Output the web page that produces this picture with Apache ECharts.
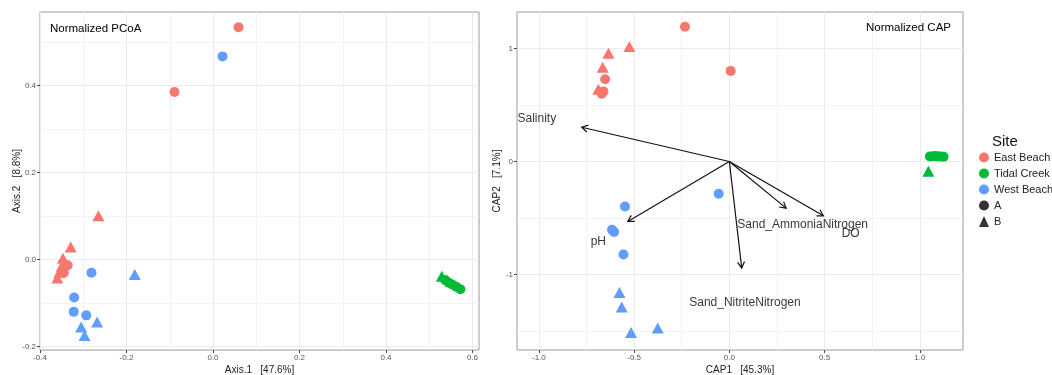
<!DOCTYPE html>
<html>
<head>
<meta charset="utf-8">
<script src="https://cdn.jsdelivr.net/npm/echarts@6/dist/echarts.min.js"></script>
<style>html,body{margin:0;padding:0;background:#fff;}#c{width:1052px;height:375px;}</style>
</head>
<body>
<div id="c"></div>
<script>
// ---------- DATA ----------
const siteNames = ['East Beach', 'Tidal Creek', 'West Beach'];
const groupNames = ['A', 'B'];

// PCoA (Axis.1, Axis.2)
const pcoaEastA = [[0.059,0.534],[-0.089,0.385],[-0.336,-0.013],[-0.345,-0.030]];
const pcoaEastB = [[-0.265,0.101],[-0.329,0.029],[-0.347,0.003],[-0.350,-0.015],[-0.355,-0.029],[-0.360,-0.042]];
const pcoaTidalA = [[0.537,-0.047],[0.545,-0.053],[0.553,-0.057],[0.562,-0.062],[0.572,-0.068]];
const pcoaTidalB = [[0.529,-0.038]];
const pcoaWestA = [[0.022,0.467],[-0.281,-0.030],[-0.321,-0.087],[-0.322,-0.120],[-0.293,-0.128]];
const pcoaWestB = [[-0.181,-0.034],[-0.268,-0.143],[-0.305,-0.155],[-0.297,-0.174]];

// CAP (CAP1, CAP2)
const capEastA = [[-0.233,1.195],[0.007,0.803],[-0.652,0.729],[-0.661,0.620],[-0.670,0.600]];
const capEastB = [[-0.525,1.020],[-0.635,0.960],[-0.665,0.835],[-0.688,0.640]];
const capTidalA = [[1.053,0.045],[1.075,0.048],[1.095,0.046],[1.110,0.044],[1.125,0.042]];
const capTidalB = [[1.045,-0.085]];
const capWestA = [[-0.056,-0.286],[-0.548,-0.398],[-0.616,-0.604],[-0.605,-0.625],[-0.556,-0.823]];
const capWestB = [[-0.577,-1.160],[-0.565,-1.290],[-0.516,-1.515],[-0.376,-1.475]];

// CAP environmental vectors (arrow tips) and their labels
const envNames = ['Salinity','pH','Sand_NitriteNitrogen','Sand_AmmoniaNitrogen','DO'];
const envArrows = [[-0.775,0.304],[-0.533,-0.531],[0.065,-0.943],[0.298,-0.413],[0.494,-0.481]];
const envLabelPos = [[-1.011,0.378],[-0.688,-0.708],[0.082,-1.248],[0.385,-0.560],[0.637,-0.640]];

// axis ticks
const pcoaXTicks = [-0.4,-0.2,0,0.2,0.4,0.6];
const pcoaXMinor = [-0.3,-0.1,0.1,0.3,0.5];
const pcoaYTicks = [-0.2,0,0.2,0.4];
const pcoaYMinor = [-0.1,0.1,0.3,0.5];
const capXTicks = [-1,-0.5,0,0.5,1];
const capXMinor = [-0.75,-0.25,0.25,0.75];
const capYTicks = [-1,0,1];
const capYMinor = [-1.5,-0.5,0.5];

// ---------- CHART ----------
const COLORS = {'East Beach':'#F8766D','Tidal Creek':'#00BA38','West Beach':'#619CFF'};
const FONT = 'Liberation Sans, Arial, sans-serif';
const chart = echarts.init(document.getElementById('c'), null, {renderer:'canvas'});

function axisPair(dim, gridIndex, min, max, ticks, minor, name, nameGap, dec) {
  const major = {
    type:'value', gridIndex, min, max,
    position: dim === 'x' ? 'bottom' : 'left',
    name, nameLocation:'middle', nameGap, nameMoveOverlap:false,
    nameTextStyle:{fontFamily:FONT, fontSize:10, color:'#222'},
    axisLine:{show:false, onZero:false},
    axisTick:{show:true, customValues:ticks, length:3, lineStyle:{color:'#444', width:1}},
    axisLabel:{customValues:ticks, fontFamily:FONT, fontSize:8, color:'#555', margin:4,
      formatter: v => Number(v).toFixed(dec)},
    splitLine:{show:true, lineStyle:{color:'#EBEBEB', width:1}}
  };
  const mn = {
    type:'value', gridIndex, min, max,
    position: dim === 'x' ? 'top' : 'right',
    axisLine:{show:false, onZero:false},
    axisTick:{show:false, customValues:minor},
    axisLabel:{show:false, customValues:minor},
    splitLine:{show:true, lineStyle:{color:'#F3F3F3', width:1}}
  };
  return [major, mn];
}

const xAxes = [
  ...axisPair('x', 0, -0.4, 0.615, pcoaXTicks, pcoaXMinor, 'Axis.1   [47.6%]', 15, 1),
  ...axisPair('x', 1, -1.115, 1.227, capXTicks, capXMinor, 'CAP1   [45.3%]', 15, 1)
];
const yAxes = [
  ...axisPair('y', 0, -0.2076, 0.569, pcoaYTicks, pcoaYMinor, 'Axis.2   [8.8%]', 18, 1),
  ...axisPair('y', 1, -1.67, 1.325, capYTicks, capYMinor, 'CAP2   [7.1%]', 15, 0)
];

function pts(name, data, shape, axisIdx) {
  return {
    type:'scatter', name, xAxisIndex:axisIdx, yAxisIndex:axisIdx,
    symbol: shape, symbolSize: shape === 'triangle' ? [12,11] : 10,
    itemStyle:{color:COLORS[name], opacity:1},
    data, z:3, silent:true
  };
}

const series = [
  pts('East Beach', pcoaEastA, 'circle', 0),
  pts('East Beach', pcoaEastB, 'triangle', 0),
  pts('Tidal Creek', pcoaTidalA, 'circle', 0),
  pts('Tidal Creek', pcoaTidalB, 'triangle', 0),
  pts('West Beach', pcoaWestA, 'circle', 0),
  pts('West Beach', pcoaWestB, 'triangle', 0),
  pts('East Beach', capEastA, 'circle', 2),
  pts('East Beach', capEastB, 'triangle', 2),
  pts('Tidal Creek', capTidalA, 'circle', 2),
  pts('Tidal Creek', capTidalB, 'triangle', 2),
  pts('West Beach', capWestA, 'circle', 2),
  pts('West Beach', capWestB, 'triangle', 2),
  {
    type:'custom', name:'arrows', xAxisIndex:2, yAxisIndex:2, z:4, silent:true,
    encode:{x:0, y:1},
    data: envArrows,
    renderItem: function(params, api) {
      const o = api.coord([0,0]);
      const p = api.coord([api.value(0), api.value(1)]);
      const ang = Math.atan2(p[1]-o[1], p[0]-o[0]);
      const L = 7, a = Math.PI/6;
      const h1 = [p[0]-L*Math.cos(ang-a), p[1]-L*Math.sin(ang-a)];
      const h2 = [p[0]-L*Math.cos(ang+a), p[1]-L*Math.sin(ang+a)];
      const st = {stroke:'#111', lineWidth:1.2};
      return {type:'group', children:[
        {type:'line', shape:{x1:o[0],y1:o[1],x2:p[0],y2:p[1]}, style:st},
        {type:'polyline', shape:{points:[h1,p,h2]}, style:Object.assign({fill:null}, st)}
      ]};
    }
  },
  {
    type:'scatter', name:'envLabels', xAxisIndex:2, yAxisIndex:2, z:5, silent:true,
    symbolSize:0,
    data: envNames.map((n,i) => ({name:n, value:envLabelPos[i]})),
    label:{show:true, position:'inside', formatter:'{b}', fontFamily:FONT, fontSize:12, color:'#000'}
  },
  // legend-only series
  {type:'scatter', name:'A', xAxisIndex:0, yAxisIndex:0, data:[], itemStyle:{color:'#000'}},
  {type:'scatter', name:'B', xAxisIndex:0, yAxisIndex:0, data:[], itemStyle:{color:'#000'}}
];

chart.setOption({
  animation:false,
  backgroundColor:'#fff',
  title:[
    {text:'Normalized PCoA', left:45, top:18, textStyle:{fontFamily:FONT, fontSize:11.5, fontWeight:'normal', color:'#000'}},
    {text:'Normalized CAP', right:96, top:17, textStyle:{fontFamily:FONT, fontSize:11.5, fontWeight:'normal', color:'#000'}},
    {text:'Site', left:987, top:129, textStyle:{fontFamily:FONT, fontSize:15, fontWeight:'normal', color:'#111'}}
  ],
  legend:{
    orient:'vertical', left:974, top:147, itemWidth:10, itemHeight:11, itemGap:5,
    selectedMode:false,
    textStyle:{fontFamily:FONT, fontSize:11, color:'#222'},
    data:[
      {name:'East Beach', icon:'circle'},
      {name:'Tidal Creek', icon:'circle'},
      {name:'West Beach', icon:'circle'},
      {name:'A', icon:'circle'},
      {name:'B', icon:'triangle'}
    ]
  },
  grid:[
    {left:40, right:573, top:12, bottom:25, outerBoundsMode:'none', containLabel:false, show:true, borderColor:'#9a9a9a', borderWidth:1, backgroundColor:'#fff'},
    {left:517, right:89, top:12, bottom:25, outerBoundsMode:'none', containLabel:false, show:true, borderColor:'#9a9a9a', borderWidth:1, backgroundColor:'#fff'}
  ],
  xAxis:xAxes,
  yAxis:yAxes,
  series
});
</script>
</body>
</html>
